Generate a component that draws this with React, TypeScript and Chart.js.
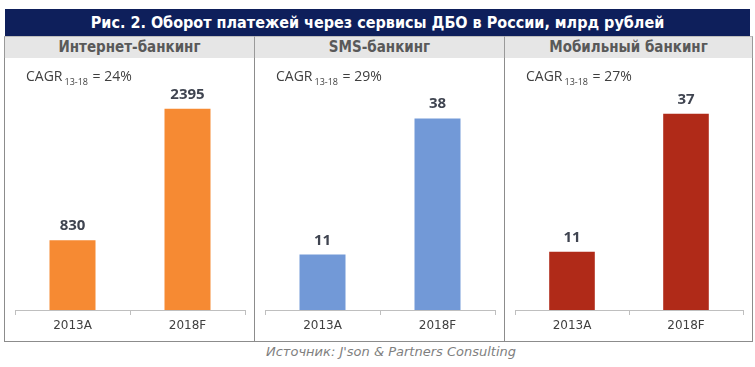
import React, { useEffect, useRef } from "react";
import { Chart, registerables } from "chart.js";

Chart.register(...registerables);

const titleText = "Рис. 2. Оборот платежей через сервисы ДБО в России, млрд рублей";
const sourceText = "Источник: J'son & Partners Consulting";
const categories = ["2013A", "2018F"];
const panelTitles = ["Интернет-банкинг", "SMS-банкинг", "Мобильный банкинг"];
const internetValues = [830, 2395];
const smsValues = [11, 38];
const mobileValues = [11, 37];
const cagrValues = ["24%", "29%", "27%"];
const yMaxValues = [3000, 50, 47.5];
const barColors = ["#F68A33", "#7299D7", "#B02A18"];

const seriesList = [internetValues, smsValues, mobileValues];

const valueLabels = {
  id: "valueLabels",
  afterDatasetsDraw(chart: any) {
    const ctx = chart.ctx;
    const meta = chart.getDatasetMeta(0);
    const data = chart.data.datasets[0].data;
    meta.data.forEach((bar: any, i: number) => {
      ctx.save();
      ctx.font = 'bold 15px "Open Sans", sans-serif';
      ctx.fillStyle = "#3f4450";
      ctx.textAlign = "center";
      ctx.textBaseline = "alphabetic";
      ctx.fillText(String(data[i]), bar.x, bar.y - 10);
      ctx.restore();
    });
  },
};

function Panel({ idx }: { idx: number }) {
  const ref = useRef<HTMLCanvasElement | null>(null);
  useEffect(() => {
    if (!ref.current) return;
    const chart = new Chart(ref.current, {
      type: "bar",
      data: {
        labels: categories,
        datasets: [
          {
            data: seriesList[idx],
            backgroundColor: barColors[idx],
            barPercentage: 0.4,
            categoryPercentage: 1,
          },
        ],
      },
      options: {
        responsive: false,
        animation: false,
        layout: { padding: { left: 10, right: 9, top: 0, bottom: 0 } },
        plugins: { legend: { display: false }, tooltip: { enabled: false } },
        scales: {
          x: {
            afterFit: (s: any) => {
              s.height = 31;
            },
            grid: {
              display: true,
              drawOnChartArea: false,
              drawTicks: true,
              tickLength: 5,
              color: "#bfbfbf",
              offset: true,
            },
            border: { display: true, color: "#bfbfbf" },
            ticks: {
              padding: 4,
              color: "#404040",
              font: { family: "'DejaVu Sans', sans-serif", size: 12 },
            },
          },
          y: {
            display: false,
            min: 0,
            max: yMaxValues[idx],
          },
        },
      },
      plugins: [valueLabels],
    });
    return () => chart.destroy();
  }, [idx]);

  const left = 4 + idx * 250;
  const w = idx === 2 ? 247 : 249;
  return (
    <>
      <div
        style={{
          position: "absolute",
          left,
          top: 36,
          width: w,
          height: 21,
          borderLeft: "1px solid #9a9a9a",
          borderRight: idx === 2 ? "1px solid #9a9a9a" : "none",
          borderTop: "1px solid #bdbdbd",
          borderBottom: "1px solid #9a9a9a",
          background: "#e6e6e6",
          color: "#595959",
          fontFamily: "'Liberation Sans Narrow', 'DejaVu Sans Condensed', 'Roboto', sans-serif",
          fontStretch: "condensed",
          fontWeight: "bold",
          fontSize: 15,
          lineHeight: "21px",
          textAlign: "center",
        }}
      >
        {panelTitles[idx]}
      </div>
      <div
        style={{
          position: "absolute",
          left,
          top: 58,
          width: w,
          height: 283,
          borderLeft: "1px solid #8c8c8c",
          borderRight: idx === 2 ? "1px solid #8c8c8c" : "none",
          borderBottom: "1px solid #8c8c8c",
          background: "#ffffff",
        }}
      >
        <canvas
          ref={ref}
          width={w}
          height={283}
          style={{ position: "absolute", left: 0, top: 0, width: w, height: 283 }}
        />
        <div
          style={{
            position: "absolute",
            left: 21,
            top: 8,
            fontFamily: "'Open Sans', sans-serif",
            fontSize: 14,
            color: "#404040",
            whiteSpace: "nowrap",
          }}
        >
          CAGR
          <span style={{ fontSize: 9, position: "relative", top: 4, marginLeft: 2, marginRight: 1 }}>13-18</span>
          {" = " + cagrValues[idx]}
        </div>
      </div>
    </>
  );
}

export default function App() {
  return (
    <div
      style={{
        position: "fixed",
        left: 0,
        top: 0,
        width: 755,
        height: 367,
        background: "#ffffff",
        overflow: "hidden",
      }}
    >
      <div
        style={{
          position: "absolute",
          left: 5,
          top: 9,
          width: 745,
          height: 27,
          background: "#0E1F5B",
          color: "#ffffff",
          fontFamily: "'Liberation Sans Narrow', 'DejaVu Sans Condensed', 'Roboto', sans-serif",
          fontStretch: "condensed",
          fontWeight: "bold",
          fontSize: 16,
          lineHeight: "27px",
          textAlign: "center",
        }}
      >
        {titleText}
      </div>
      <Panel idx={0} />
      <Panel idx={1} />
      <Panel idx={2} />
      <div
        style={{
          position: "absolute",
          left: 266,
          top: 344,
          fontFamily: "'DejaVu Sans', sans-serif",
          fontStyle: "italic",
          fontSize: 13,
          color: "#7f7f7f",
          whiteSpace: "nowrap",
        }}
      >
        {sourceText}
      </div>
    </div>
  );
}
